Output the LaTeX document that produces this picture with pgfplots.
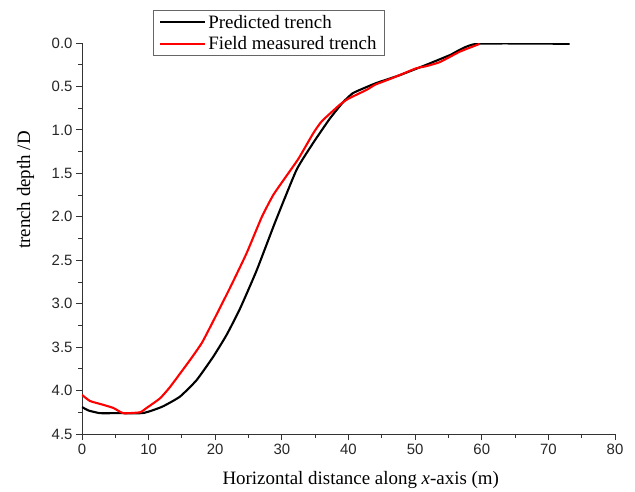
\documentclass[border=0pt]{standalone}
\usepackage{pgfplots}
\pgfplotsset{compat=1.18}
\usepackage{fontspec}
\setmainfont{Liberation Serif}
\setsansfont{Liberation Sans}
\begin{document}
\begin{tikzpicture}
\begin{axis}[
  name=ax,
  scale only axis,
  width=533bp, height=391bp,
  xmin=0, xmax=80, ymin=0, ymax=4.5,
  y dir=reverse,
  axis x line*=bottom, axis y line*=left,
  axis line style={line width=0.9pt, black!80},
  xtick={0,10,...,80}, ytick={0,0.5,...,4.5},
  minor x tick num=1, minor y tick num=1,
  tick align=outside,
  major tick length=6bp, minor tick length=3.5bp,
  tick style={line width=0.9pt, black!80},
  /pgf/number format/assume math mode=true,
  yticklabel style={/pgf/number format/.cd, fixed, fixed zerofill, precision=1},
  ticklabel style={font=\sffamily\fontsize{15}{17}\selectfont, text=black!85},
  xticklabel style={yshift=-1bp},
  xlabel={Horizontal distance along \textit{x}-axis (m)},
  ylabel={trench depth /D},
  label style={font=\fontsize{19}{21}\selectfont},
  xlabel style={at={(axis description cs:0.523,-0.130)}, anchor=base},
  ylabel style={at={(axis description cs:-0.106,0.624)}, anchor=center},
  legend style={at={(axis description cs:0.133,1.084)}, anchor=north west,
    draw=black!60, line width=0.6pt, fill=white,
    font=\fontsize{19}{21}\selectfont, row sep=3bp,
    inner xsep=6bp, inner ysep=2.5bp},
  legend cell align=left,
  legend image code/.code={\draw[#1] (0bp,0bp) -- (45bp,0bp);},
]
\addplot[black, line width=2.1pt, smooth, tension=0.3] coordinates {
(0,4.19)(1,4.23)(2.7,4.26)(5,4.26)(9,4.26)(10.5,4.23)(12.2,4.18)(14.7,4.07)
(17.2,3.88)(19.7,3.61)(21.7,3.36)(23.7,3.06)(26.2,2.62)(29,2.06)(32.2,1.46)
(34.7,1.15)(37.2,0.87)(39.2,0.68)(40.6,0.58)(42,0.53)(44.2,0.46)(47.7,0.37)
(51.7,0.25)(55.2,0.14)(59.2,0.01)(73.2,0.01)};
\addlegendentry{Predicted trench}
\addplot[red, line width=2.1pt, smooth, tension=0.3] coordinates {
(0,4.05)(1.2,4.12)(3,4.16)(4.7,4.2)(6.2,4.26)(8.7,4.25)(9.7,4.2)(11.7,4.09)
(13.2,3.96)(16.2,3.65)(18,3.45)(19.7,3.2)(22.2,2.82)(24.7,2.42)(27,2.0)
(28.7,1.75)(30.5,1.55)(32.5,1.33)(34.7,1.04)(36,0.9)(38.7,0.71)(40,0.64)
(42.7,0.54)(44,0.48)(46.7,0.40)(50.2,0.29)(51.5,0.27)(53.7,0.22)(56.7,0.10)(59.7,0.01)};
\addlegendentry{Field measured trench}
\coordinate (bl) at (axis description cs:0,0);
\end{axis}
\pgfresetboundingbox
\path (bl) ++(-82bp,-58bp) rectangle ++(635bp,492bp);
\end{tikzpicture}
\end{document}
